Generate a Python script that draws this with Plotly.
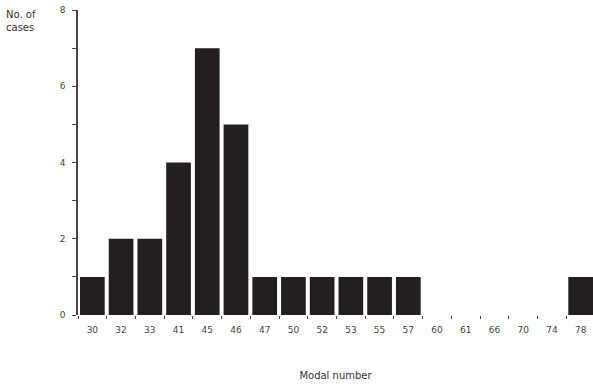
import plotly.graph_objects as go

# Chromosome modal numbers and the number of cases observed for each
modal_numbers = ["30", "32", "33", "41", "45", "46", "47", "50", "52",
                 "53", "55", "57", "60", "61", "66", "70", "74", "78"]
case_counts = [1, 2, 2, 4, 7, 5, 1, 1, 1, 1, 1, 1, 0, 0, 0, 0, 0, 1]

positions = list(range(len(modal_numbers)))

fig = go.Figure(
    go.Bar(
        x=positions,
        y=case_counts,
        marker=dict(color="#231f20", line=dict(width=0)),
        width=0.86,
        showlegend=False,
    )
)

font_family = "DejaVu Sans"

fig.update_layout(
    width=593,
    height=384,
    margin=dict(l=78, r=0, t=10, b=69),
    paper_bgcolor="white",
    plot_bgcolor="white",
    font=dict(family=font_family, size=9, color="#333333"),
    xaxis=dict(
        range=[-0.5, 17.43],
        tickmode="array",
        tickvals=positions,
        ticktext=modal_numbers,
        # invisible centre ticks only space the labels away from the bars
        ticks="outside",
        ticklen=6,
        tickcolor="rgba(0,0,0,0)",
        showgrid=False,
        zeroline=False,
        showline=False,
        tickfont=dict(size=9, color="#444444"),
        # visible ticks on the boundaries between bars
        minor=dict(tick0=-0.5, dtick=1, ticks="outside", ticklen=3,
                   tickcolor="#444444", showgrid=False),
        title=dict(text="Modal number", font=dict(size=10, color="#333333"),
                   standoff=38),
    ),
    yaxis=dict(
        range=[0, 8],
        tickmode="array",
        tickvals=[0, 2, 4, 6, 8],
        ticks="outside",
        ticklen=4,
        ticklabelstandoff=5,
        tickcolor="#444444",
        showgrid=False,
        zeroline=False,
        showline=True,
        linecolor="#444444",
        linewidth=1.5,
        tickfont=dict(size=9, color="#444444"),
        minor=dict(tickvals=[1, 3, 5, 7], ticks="outside", ticklen=4,
                   tickcolor="#444444", showgrid=False),
    ),
    annotations=[
        dict(
            text="No. of<br>cases",
            xref="paper", yref="paper",
            x=-74 / 515, y=1.01,
            xanchor="left", yanchor="top",
            align="left",
            showarrow=False,
            font=dict(size=10, color="#333333"),
        )
    ],
)

fig.write_html("out.html")
